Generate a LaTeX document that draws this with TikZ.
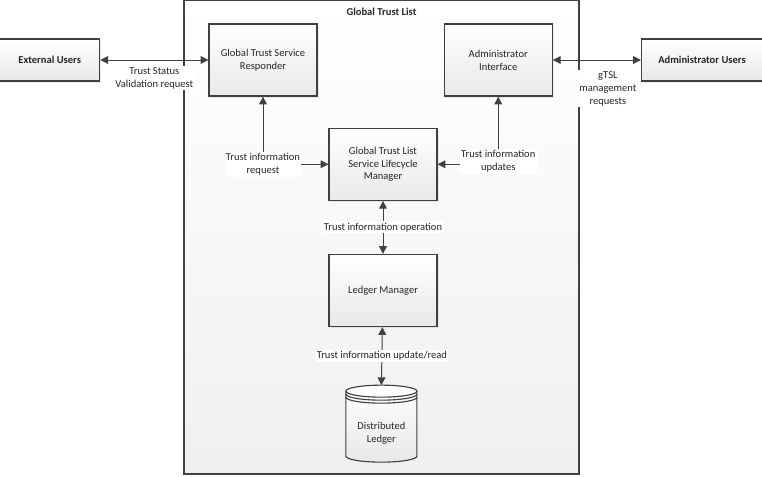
\documentclass[tikz,border=0pt]{standalone}
\usepackage{fontspec}
\setmainfont{Carlito}
\usetikzlibrary{arrows.meta, positioning, shadows}
\definecolor{edgegray}{RGB}{64,64,64}
\definecolor{labeltext}{RGB}{38,38,38}

\begin{document}
\begin{tikzpicture}[
    font=\fontsize{7.5}{9.2}\selectfont,
    >={Triangle[length=5.5pt,width=5.5pt]},
    text=labeltext,
    box/.style={draw=edgegray, line width=0.9pt, top color=white, bottom color=black!9, minimum width=2.7cm, minimum height=1.8cm, align=center, drop shadow={shadow xshift=0.04cm, shadow yshift=-0.04cm, opacity=0.15}},
    userbox/.style={box, minimum height=1.05cm, font=\fontsize{7.5}{9.2}\selectfont\bfseries},
    framebox/.style={draw=edgegray, line width=0.9pt, top color=white, bottom color=black!6, minimum width=9.875cm, minimum height=11.85cm},
    link/.style={<->, draw=edgegray, line width=0.7pt},
    tag/.style={fill=white, inner sep=1pt, align=center},
    dbshape/.style={draw=edgegray, line width=0.8pt},
]
\useasboundingbox (0,0) rectangle (19.05,11.925);

% === Global Trust List frame ===
\node[framebox] (gtl) at (9.5375,6.0) {};
\node[font=\fontsize{7.5}{9.2}\selectfont\bfseries, below=0.1cm of gtl.north] (gtltitle) {Global Trust List};

% === Top row ===
\node[box] (responder) at (6.575,10.425) {Global Trust Service\\Responder};
\node[box, right=3.15cm of responder] (admin) {Administrator\\Interface};
\node[userbox, left=2.7cm of responder, minimum width=2.5cm] (external) {External Users};
\node[userbox, right=2.2cm of admin, minimum width=3.025cm] (adminusers) {Administrator Users};

% === Centre column ===
\node[box, below=0.775cm of responder, xshift=3cm] (lifecycle) {Global Trust List\\Service Lifecycle\\Manager};
\node[box, below=1.325cm of lifecycle] (ledger) {Ledger Manager};
\coordinate[below=1.45cm of ledger, xshift=-0.04cm] (dltop);

% Distributed ledger drum
\draw[dbshape, top color=white, bottom color=black!9] ([xshift=-0.8875cm, yshift=-0.15cm]dltop) -- ++(0,-1.625)
    arc[start angle=180, end angle=360, x radius=0.8875cm, y radius=0.15cm] -- ++(0,1.625)
    arc[start angle=0, end angle=180, x radius=0.8875cm, y radius=0.15cm] -- cycle;
\foreach \dy in {0.15,0.225,0.3}
    \draw[dbshape] ([xshift=-0.8875cm, yshift=-\dy cm]dltop) arc[start angle=180, end angle=360, x radius=0.8875cm, y radius=0.15cm];
\node[align=center] (dl) at ([yshift=-1.2125cm]dltop) {Distributed\\Ledger};

% === Connectors ===
\draw[link] (external) -- node[tag, below=0.14cm] (tagvalid) {Trust Status\\Validation request} (responder);
\draw[link] (admin) -- node[tag, below=0.24cm, xshift=0.275cm] (tagmgmt) {gTSL\\management\\requests} (adminusers);
\draw[link] (responder.south) |- node[tag, pos=0.5] (tagrequest) {Trust information\\request} (lifecycle.west);
\draw[link] (admin.south) |- node[tag, pos=0.5, yshift=0.075cm] (tagupdates) {Trust information\\updates} (lifecycle.east);
\draw[link] (lifecycle) -- node[tag] (tagoperation) {Trust information operation} (ledger);
\draw[link] (ledger) -- node[tag] (tagreadwrite) {Trust information update/read} (dltop);

\end{tikzpicture}
\end{document}
